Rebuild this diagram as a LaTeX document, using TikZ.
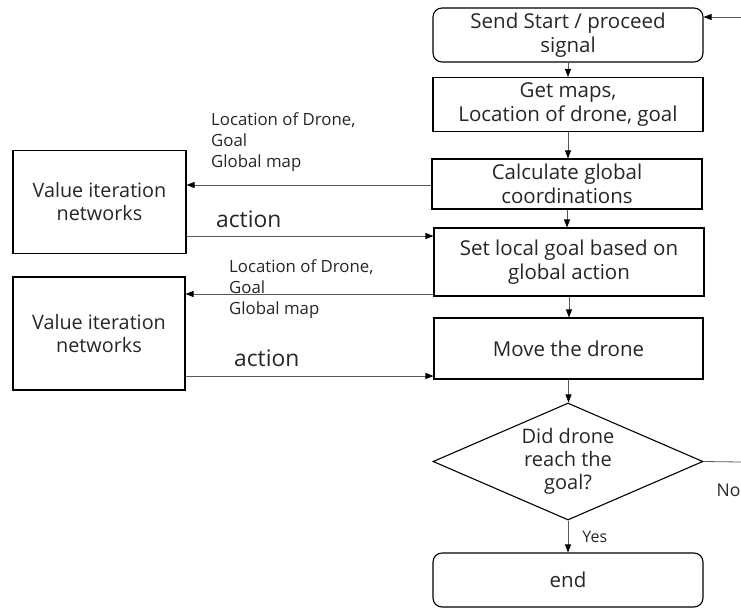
\documentclass[tikz,border=0pt]{standalone}
\usepackage{fontspec}
\setmainfont{Open Sans}
\usetikzlibrary{shapes.geometric,arrows.meta}
\begin{document}
\begin{tikzpicture}[x=1pt,y=-1pt,
  box/.style={draw=black,line width=1.1pt,align=center,inner sep=0pt,
    font=\fontsize{20.5}{24.5}\selectfont,text=black!85},
  rbox/.style={box,rounded corners=9pt},
  vbox/.style={box,font=\fontsize{19.8}{23}\selectfont},
  dia/.style={draw=black,line width=1.1pt,diamond,aspect=2.3,align=center,inner sep=0pt,
    minimum width=270pt,minimum height=117pt,font=\fontsize{20}{23}\selectfont,text=black!85},
  conn/.style={draw=black!65,line width=0.8pt},
  arr/.style={conn,-{Triangle[length=8pt,width=6pt,color=black]}},
  small/.style={align=left,inner sep=0pt,anchor=north west,font=\fontsize{16.8}{21}\selectfont,text=black!85},
  act/.style={inner sep=0pt,anchor=base west,font=\fontsize{22.8}{26}\selectfont,text=black!85},
  lab/.style={inner sep=0pt,font=\fontsize{16}{18}\selectfont,text=black!85}]
\useasboundingbox (0,0) rectangle (741,608);

\node[rbox,minimum width=270pt,minimum height=54pt] (s1) at (568,35) {Send Start / proceed\\signal};
\node[box,minimum width=270pt,minimum height=54pt] (s2) at (568,104.5) {Get maps,\\Location of drone, goal};
\node[box,minimum width=270pt,minimum height=50pt] (s3) at (567,184) {Calculate global\\coordinations};
\node[box,minimum width=270pt,minimum height=68pt] (s4) at (569,262) {Set local goal based on\\global action};
\node[box,minimum width=269pt,minimum height=61pt] (s5) at (568.5,348.5) {Move the drone};
\node[dia] (dec) at (568,461.5) {Did drone\\reach the\\goal?};
\node[rbox,minimum width=270pt,minimum height=54pt] (e) at (568,580) {end};

\node[vbox,minimum width=173pt,minimum height=103pt] (vA) at (99.5,202) {Value iteration\\networks};
\node[vbox,minimum width=172pt,minimum height=113pt] (vB) at (99,333.5) {Value iteration\\networks};

\node[small] (l1) at (211,112.5) {Location of Drone,\\Goal\\Global map};
\node[small] (l2) at (229,259.5) {Location of Drone,\\Goal\\Global map};
\node[act] (a1) at (216,227) {action};
\node[act] (a2) at (234,366) {action};

\coordinate (inR) at (741,17);
\coordinate (outR) at (741,462);

\draw[arr] (inR) -- (inR -| s1.east);
\draw[arr] (s1) -- (s2);
\draw[arr] (s2.south) -- (s2.south |- s3.north);
\draw[arr] (s3.south) -- (s3.south |- s4.north);
\draw[arr] (s4.south) -- (s4.south |- s5.north);
\draw[arr] (s5.south) -- (s5.south |- dec.north);
\draw[arr] (dec.south) -- node[lab,anchor=west,pos=0.5,xshift=14pt] (yes) {Yes} (e.north);
\draw[conn] (dec.east) -- (outR);
\node[lab,anchor=west,font=\fontsize{17.5}{18}\selectfont] (no) at (716.5,490) {No};

\draw[arr] ([yshift=-1pt]s3.west) -- ([yshift=-1pt]s3.west -| vA.east);
\draw[arr] ([yshift=-34pt]vA.east) -- ([yshift=-34pt]vA.east -| s4.west);
\draw[arr] ([yshift=-32pt]s4.west) -- ([yshift=-32pt]s4.west -| vB.east);
\draw[arr] ([yshift=-42.5pt]vB.east) -- ([yshift=-42.5pt]vB.east -| s5.west);
\end{tikzpicture}
\end{document}
